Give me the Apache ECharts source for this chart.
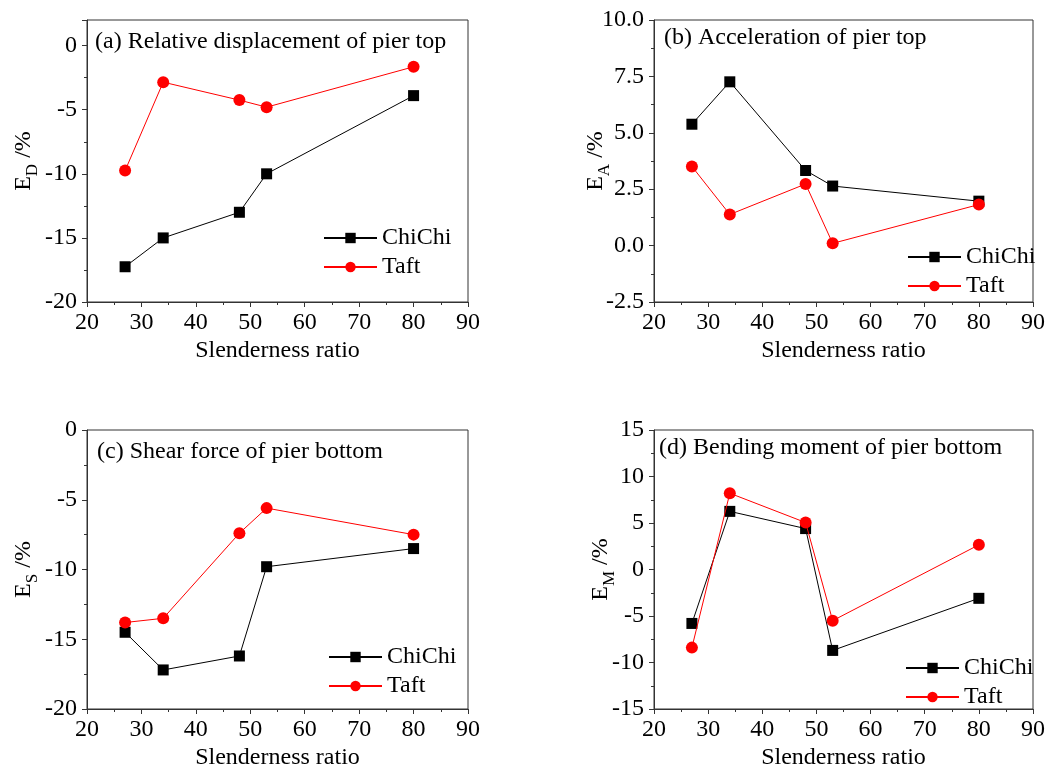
<!DOCTYPE html>
<html lang="en">
<head>
    <meta charset="UTF-8">
    <title>Slenderness ratio error analysis</title>
    <script src="https://cdn.jsdelivr.net/npm/echarts@6/dist/echarts.min.js"></script>
    <style type="text/css">
        *{margin:0;padding:0;}
        body{background:#fff;}
        #main{width:1048px;height:771px;}
    </style>
</head>
<body>
<div id="main"></div>

<script type="text/javascript">
    // x values shared by all four panels
    var slenderness = [27, 34, 48, 53, 80];

    // (a) relative displacement of pier top
    var dispChiChi = [-17.25, -15.0, -13.0, -10.0, -3.9];
    var dispTaft = [-9.75, -2.85, -4.25, -4.8, -1.65];
    // (b) acceleration of pier top
    var accChiChi = [5.38, 7.26, 3.33, 2.64, 1.97];
    var accTaft = [3.51, 1.38, 2.73, 0.1, 1.82];
    // (c) shear force of pier bottom
    var shearChiChi = [-14.5, -17.2, -16.2, -9.8, -8.5];
    var shearTaft = [-13.8, -13.5, -7.4, -5.6, -7.5];
    // (d) bending moment of pier bottom
    var momentChiChi = [-5.8, 6.25, 4.4, -8.7, -3.1];
    var momentTaft = [-8.4, 8.2, 5.05, -5.5, 2.65];

    var titles = [
        '(a) Relative displacement of pier top',
        '(b) Acceleration of pier top',
        '(c) Shear force of pier bottom',
        '(d) Bending moment of pier bottom'
    ];
    var yNames = ['D', 'A', 'S', 'M'];
    var yMin = [-20, -2.5, -20, -15];
    var yMax = [2, 10, 0, 15];
    var yStep = [5, 2.5, 5, 5];
    var xTicks = {min: 20, max: 90, step: 10};

    var FONT = 'Liberation Serif';
    var AXIS_COLOR = '#333';

    // panel layout
    var grids = [
        {left: 87, top: 20, width: 381, height: 282},
        {left: 654, top: 20, width: 381, height: 282},
        {left: 87, top: 430, width: 381, height: 282},
        {left: 654, top: 430, width: 381, height: 282}
    ];
    var titlePos = [[95, 30], [664, 26], [97, 440], [659, 436]];
    var legendPos = [[323, 226], [907, 245], [328, 645], [905, 656]];
    var nameGaps = [51, 46, 51, 41];

    function pairs(ys) {
        var out = [];
        for (var i = 0; i < slenderness.length; i++) {
            out.push([slenderness[i], ys[i]]);
        }
        return out;
    }

    var chichiData = [dispChiChi, accChiChi, shearChiChi, momentChiChi];
    var taftData = [dispTaft, accTaft, shearTaft, momentTaft];

    var option = {
        backgroundColor: '#fff',
        animation: false,
        title: [],
        legend: [],
        grid: [],
        xAxis: [],
        yAxis: [],
        series: []
    };

    for (var k = 0; k < 4; k++) {
        option.grid.push({
            left: grids[k].left, top: grids[k].top,
            width: grids[k].width, height: grids[k].height,
            show: true, borderColor: AXIS_COLOR, borderWidth: 1,
            backgroundColor: 'transparent'
        });
        option.title.push({
            text: titles[k],
            left: titlePos[k][0],
            top: titlePos[k][1],
            padding: 0,
            textStyle: {fontFamily: FONT, fontSize: 24, fontWeight: 'normal', color: '#000'}
        });
        option.legend.push({
            orient: 'vertical',
            left: legendPos[k][0],
            top: legendPos[k][1],
            padding: 0,
            itemWidth: 53,
            itemHeight: 13,
            itemGap: 5,
            selectedMode: false,
            data: ['ChiChi', 'Taft'],
            textStyle: {fontFamily: FONT, fontSize: 24, color: '#000'}
        });
        option.xAxis.push({
            type: 'value',
            gridIndex: k,
            min: xTicks.min, max: xTicks.max, interval: xTicks.step,
            name: 'Slenderness ratio',
            nameLocation: 'middle',
            nameGap: 37,
            nameMoveOverlap: false,
            nameTextStyle: {fontFamily: FONT, fontSize: 24, color: '#000'},
            axisLine: {onZero: false, lineStyle: {color: AXIS_COLOR, width: 1}},
            axisTick: {show: true, inside: false, length: 5, lineStyle: {color: AXIS_COLOR}},
            minorTick: {show: true, splitNumber: 2, length: 3, lineStyle: {color: AXIS_COLOR}},
            axisLabel: {fontFamily: FONT, fontSize: 24, color: '#000', margin: 9},
            splitLine: {show: false}
        });
        option.yAxis.push({
            type: 'value',
            gridIndex: k,
            min: yMin[k], max: yMax[k], interval: yStep[k],
            name: '{e|E}{s|' + yNames[k] + '}{e| /%}',
            nameLocation: 'middle',
            nameRotate: 90,
            nameGap: nameGaps[k],
            nameMoveOverlap: false,
            nameTextStyle: {
                fontFamily: FONT, color: '#000',
                rich: {
                    e: {fontFamily: FONT, fontSize: 24, color: '#000', verticalAlign: 'top', lineHeight: 24},
                    s: {fontFamily: FONT, fontSize: 17, color: '#000', verticalAlign: 'top', lineHeight: 17, padding: [12, 0, 0, 0]}
                }
            },
            axisLine: {show: true, onZero: false, lineStyle: {color: AXIS_COLOR, width: 1}},
            axisTick: {show: true, inside: false, length: 5, lineStyle: {color: AXIS_COLOR}},
            minorTick: {show: true, splitNumber: 2, length: 3, lineStyle: {color: AXIS_COLOR}},
            axisLabel: {
                fontFamily: FONT, fontSize: 24, color: '#000', margin: 10,
                showMaxLabel: k !== 0,
                formatter: k === 1 ? function (v) { return v.toFixed(1); } : null
            },
            splitLine: {show: false}
        });
        option.series.push({
            name: 'ChiChi',
            type: 'line',
            xAxisIndex: k, yAxisIndex: k,
            symbol: 'rect',
            symbolSize: 11,
            lineStyle: {color: '#000', width: 1},
            itemStyle: {color: '#000'},
            data: pairs(chichiData[k]),
            z: 3
        });
        option.series.push({
            name: 'Taft',
            type: 'line',
            xAxisIndex: k, yAxisIndex: k,
            symbol: 'circle',
            symbolSize: 12,
            lineStyle: {color: '#ff0000', width: 1},
            itemStyle: {color: '#ff0000'},
            data: pairs(taftData[k]),
            z: 4
        });
    }

    var myChart = echarts.init(document.getElementById('main'));
    myChart.setOption(option);
</script>
</body>
</html>
